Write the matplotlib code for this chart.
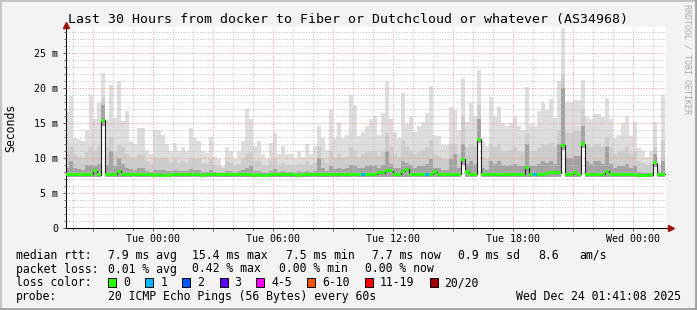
import numpy as np
import pandas as pd
import matplotlib
matplotlib.use("Agg")
import matplotlib.pyplot as plt
import matplotlib.dates as mdates
from matplotlib.patches import Rectangle
from matplotlib.ticker import MultipleLocator, FuncFormatter

plt.rcParams['font.family'] = ['DejaVu Sans Mono']

W, H = 697, 310

# 12 minute smoke columns, times of the first bin edge and the visible window
bin_start = "2025-12-22 19:36"
bin_minutes = 12
win_start = pd.Timestamp("2025-12-22 19:41:08")
win_end = pd.Timestamp("2025-12-24 01:41:08")

# ms values per 12-minute column
top = [16.5, 18.8, 12.9, 12.7, 12.4, 14.0, 19.0, 15.5, 17.8, 22.1, 15.4, 20.4, 15.7, 21.0, 15.3, 16.7, 12.4, 12.0, 14.3, 14.3, 11.2, 10.5, 14.0, 14.0, 13.3,
       12.0, 11.0, 12.2, 11.0, 11.5, 11.0, 14.3, 12.8, 12.4, 11.0, 10.7, 13.0, 10.2, 9.8, 8.8, 11.5, 11.0, 9.8, 11.0, 12.4, 17.0, 15.5, 11.7, 12.4, 10.5,
       9.8, 12.1, 13.6, 10.5, 11.7, 10.5, 10.6, 10.0, 11.0, 10.2, 12.0, 10.5, 11.7, 14.6, 12.9, 11.2, 16.8, 12.9, 15.0, 12.9, 13.3, 19.0, 17.5, 13.2, 13.7,
       14.5, 15.5, 16.0, 13.3, 16.4, 21.0, 15.5, 13.7, 12.9, 19.3, 14.8, 16.0, 13.7, 14.5, 15.2, 16.4, 20.3, 13.3, 13.1, 11.9, 11.9, 17.3, 16.8, 14.0, 21.4,
       15.2, 17.8, 16.0, 22.5, 12.4, 11.7, 18.7, 16.0, 17.3, 15.0, 14.5, 15.0, 16.0, 14.5, 14.0, 20.2, 14.8, 14.5, 16.7, 17.9, 16.9, 18.4, 15.7, 21.0, 28.6,
       18.0, 18.0, 18.3, 18.3, 21.2, 16.0, 15.5, 16.3, 16.3, 15.8, 18.5, 15.5, 12.9, 13.3, 15.0, 16.0, 13.1, 15.1, 11.4, 11.0, 10.2, 11.0, 15.2, 9.0, 19.0]

upper = [11.0, 11.5, 10.5, 10.2, 10.0, 10.8, 11.5, 11.0, 11.7, 18.5, 11.5, 13.0, 11.0, 11.8, 11.5, 10.5, 10.2, 10.0, 10.5, 10.5, 9.6, 9.2, 10.2, 10.0, 10.0,
         9.8, 9.3, 9.8, 9.3, 9.5, 9.3, 10.0, 9.8, 9.8, 9.3, 9.2, 9.8, 9.0, 8.8, 8.5, 9.5, 9.3, 8.8, 9.2, 9.8, 10.5, 10.8, 9.5, 9.5, 9.0,
         8.8, 9.5, 9.8, 9.0, 9.3, 9.0, 9.0, 8.8, 9.2, 9.0, 9.5, 9.0, 9.3, 11.5, 10.0, 9.3, 11.0, 10.0, 10.5, 10.0, 10.2, 11.5, 11.0, 10.2, 10.5,
         10.8, 11.0, 11.0, 10.3, 11.0, 13.6, 11.5, 10.5, 10.2, 12.5, 11.5, 11.0, 10.5, 10.8, 11.0, 11.5, 12.5, 10.5, 10.3, 9.8, 9.8, 12.0, 12.0, 10.5, 16.0,
         11.5, 12.0, 11.5, 17.5, 10.2, 9.8, 12.0, 11.5, 12.0, 11.0, 11.0, 11.2, 11.5, 11.0, 10.8, 13.5, 11.0, 11.0, 11.5, 12.0, 11.8, 12.2, 11.5, 14.0, 22.0,
         13.5, 13.5, 13.8, 13.8, 17.0, 12.0, 11.5, 12.0, 12.0, 11.5, 13.0, 11.5, 10.5, 10.8, 11.0, 11.5, 10.5, 11.0, 9.5, 9.3, 9.0, 9.3, 11.5, 8.3, 12.5]

inner = [8.6, 9.5, 8.5, 8.4, 8.3, 9.0, 9.0, 8.8, 9.2, 17.5, 9.0, 11.0, 8.8, 10.0, 9.2, 8.6, 8.4, 8.3, 8.5, 8.5, 8.2, 8.0, 8.3, 8.3, 8.3,
         8.2, 8.1, 8.3, 8.1, 8.2, 8.1, 8.4, 8.3, 8.3, 8.0, 8.0, 8.3, 8.0, 7.9, 7.9, 8.2, 8.1, 7.9, 8.1, 8.3, 8.6, 8.8, 8.2, 8.2, 8.0,
         7.9, 8.2, 8.4, 8.0, 8.2, 8.0, 8.0, 7.9, 8.1, 8.0, 8.2, 8.0, 8.1, 10.0, 8.5, 8.1, 8.8, 8.4, 8.6, 8.4, 8.5, 9.0, 8.8, 8.5, 8.6,
         8.8, 9.0, 9.0, 8.6, 9.0, 11.0, 9.2, 8.6, 8.5, 9.5, 9.3, 9.0, 8.6, 8.8, 8.8, 9.2, 9.8, 8.6, 8.5, 8.3, 8.3, 9.8, 10.5, 8.6, 12.0,
         9.2, 9.5, 9.2, 15.5, 8.5, 8.3, 9.5, 9.2, 9.5, 9.0, 8.8, 9.0, 9.2, 8.8, 8.8, 12.0, 8.8, 8.8, 9.2, 9.5, 9.3, 9.5, 9.2, 12.0, 20.0,
         10.0, 10.0, 10.3, 10.3, 14.5, 9.5, 9.2, 9.5, 9.5, 9.2, 11.5, 9.2, 8.6, 8.8, 8.8, 9.2, 8.5, 8.8, 8.0, 7.9, 7.8, 7.9, 10.5, 7.9, 9.5]

low = [7.35] * 9 + [14.6] + [7.35] * 89 + [9.0] + [7.35] * 3 + [12.2] + [7.35] * 20 + [11.2] + [7.35] * 4 + [11.4] + [7.35] * 17 + [8.7] + [7.35] * 2

median = [7.7, 7.7, 7.7, 7.7, 7.7, 7.7, 7.7, 8.2, 7.6, 15.4, 7.7, 7.7, 7.7, 8.1, 7.7, 7.7, 7.7, 7.7, 7.7, 7.7, 7.7, 7.7, 7.5, 7.6, 7.5,
          7.5, 7.7, 7.7, 7.7, 7.7, 7.7, 7.7, 7.7, 7.7, 7.5, 7.7, 7.7, 7.7, 7.6, 7.6, 7.6, 7.6, 7.6, 7.6, 7.6, 7.6, 7.6, 7.5, 7.6, 7.5,
          7.5, 7.6, 7.6, 7.6, 7.6, 7.6, 7.6, 7.6, 7.5, 7.6, 7.6, 7.6, 7.6, 7.6, 7.6, 7.6, 7.6, 7.6, 7.7, 7.7, 7.7, 7.7, 7.7, 7.7, 7.7,
          7.7, 7.7, 7.7, 7.9, 7.9, 8.2, 8.2, 7.7, 7.7, 8.1, 8.4, 7.7, 7.7, 7.7, 7.7, 7.7, 7.7, 8.0, 7.7, 7.7, 7.7, 7.7, 7.7, 7.7, 9.8,
          8.0, 7.7, 7.7, 12.7, 7.7, 7.7, 7.7, 7.7, 7.7, 7.7, 7.7, 7.7, 7.7, 7.7, 7.7, 8.6, 7.7, 7.7, 7.7, 7.7, 7.8, 7.9, 7.9, 7.9, 11.8,
          7.7, 7.7, 7.9, 7.7, 12.0, 7.7, 7.7, 7.7, 7.7, 7.7, 8.1, 7.7, 7.7, 7.7, 7.7, 7.7, 7.7, 7.7, 7.5, 7.5, 7.5, 7.6, 9.3, 7.7, 7.7]

# lost pings per column (out of 20)
loss = [0] * 150
for i in (74, 90, 117):
    loss[i] = 1

loss_labels = ["0", "1", "2", "3", "4-5", "6-10", "11-19", "20/20"]
loss_colors = ["#26ff00", "#00b8ff", "#0059ff", "#5e00ff", "#ff00ff", "#ff5500", "#ff0000", "#a10000"]

title = "Last 30 Hours from docker to Fiber or Dutchcloud or whatever (AS34968)"
rtt_stats = [("7.9 ms avg", 107.6), ("15.4 ms max", 192.4), ("7.5 ms min", 285.8),
             ("7.7 ms now", 372.0), ("0.9 ms sd", 457.8), ("8.6", 537.8), ("am/s", 579.0)]
loss_stats = [("0.01 % avg", 107.6), ("0.42 % max", 192.4), ("0.00 % min", 279.0), ("0.00 % now", 365.3)]
probe_text = "20 ICMP Echo Pings (56 Bytes) every 60s"
stamp = "Wed Dec 24 01:41:08 2025"


def ext(a):
    a = np.asarray(a, dtype=float)
    return np.append(a, a[-1])


n = len(top)
edges = pd.date_range(bin_start, periods=n + 1, freq=f"{bin_minutes}min")
x = mdates.date2num(edges.to_pydatetime())
bw = bin_minutes / 1440.0

fig = plt.figure(figsize=(W / 100, H / 100), dpi=100, facecolor="#f3f3f3")
ax = fig.add_axes([66.4 / W, 1 - 228 / H, 600 / W, 201 / H])
ax.set_facecolor("white")

# smoke
ax.fill_between(x, ext(low), ext(top), step="post", color="#dedede", lw=0, zorder=1)
ax.fill_between(x, ext(low), ext(upper), step="post", color="#cdcdcd", lw=0, zorder=1.1)
ax.fill_between(x, ext(low), ext(inner), step="post", color="#a3a3a3", lw=0, zorder=1.2)

# median line + loss colour
ax.step(x, ext(median), where="post", color="#202020", lw=0.8, zorder=3)
med = np.asarray(median)
ax.bar(x[:-1], 0.44, bottom=med - 0.22, width=bw, align="edge",
       color=[loss_colors[l] for l in loss], lw=0, antialiased=False, zorder=4)

ax.set_xlim(mdates.date2num(win_start.to_pydatetime()), mdates.date2num(win_end.to_pydatetime()))
ax.set_ylim(0, 28.71)

# grid
ax.xaxis.set_major_locator(mdates.HourLocator(byhour=range(0, 24, 3)))
ax.xaxis.set_minor_locator(mdates.HourLocator())
ax.yaxis.set_major_locator(MultipleLocator(5))
ax.yaxis.set_minor_locator(MultipleLocator(1))


def xfmt(v, pos):
    d = mdates.num2date(v)
    return d.strftime("%a %H:%M") if d.hour % 6 == 0 else ""


ax.xaxis.set_major_formatter(FuncFormatter(xfmt))
ax.yaxis.set_major_formatter(FuncFormatter(lambda v, p: "0" if v == 0 else f"{v:.0f} m"))
ax.grid(which="minor", color="#c4c4c4", lw=0.7, ls=(0, (1.2, 1.6)))
ax.grid(which="major", color="#f29a9a", lw=0.7, ls=(0, (1.2, 1.6)))
ax.set_axisbelow(False)

for s in ("top", "right"):
    ax.spines[s].set_visible(False)
for s in ("left", "bottom"):
    ax.spines[s].set_color("#000000")
    ax.spines[s].set_linewidth(0.75)
ax.tick_params(which="major", length=2.5, width=0.6, color="#444444", labelsize=7.2, pad=2)
ax.tick_params(which="minor", length=1.5, width=0.6, color="#444444")
ax.tick_params(axis="y", pad=3.5)

# axis arrows
ax.plot([1.0, 1.006], [0, 0], color="#000000", lw=0.75, transform=ax.transAxes, clip_on=False)
ax.plot([1.0075], [0], marker=">", ms=4, color="#a01010", transform=ax.transAxes, clip_on=False, zorder=6)
ax.plot([0], [1.012], marker="^", ms=4, color="#a01010", transform=ax.transAxes, clip_on=False, zorder=6)


def ftext(px, py, s, **kw):
    kw.setdefault("fontsize", 8.3)
    fig.text(px / W, 1 - py / H, s, **kw)


ftext(W / 2, 19, title, ha="center", va="center", fontsize=9.55)
ftext(11, 127.5, "Seconds", rotation=90, ha="center", va="center")
ftext(687, 59, "RRDTOOL / TOBI OETIKER", rotation=270, ha="center", va="center",
      fontsize=6, color="#aaaaaa")

rows = [259, 272.5, 286.5, 300]
for label, y in zip(["median rtt:", "packet loss:", "loss color:", "probe:"], rows):
    ftext(16, y, label, va="baseline")
for s, px in rtt_stats:
    ftext(px, rows[0], s, va="baseline")
for s, px in loss_stats:
    ftext(px, rows[1], s, va="baseline")

box_x = [108.4, 145.3, 182.2, 219.6, 256.4, 307.0, 365.3, 430.0]
lab_x = [123.6, 160.4, 197.3, 234.0, 271.0, 321.8, 380.0, 444.4]
for bx, lx, lab, col in zip(box_x, lab_x, loss_labels, loss_colors):
    fig.add_artist(Rectangle((bx / W, 1 - 287 / H), 8 / W, 8.7 / H, transform=fig.transFigure,
                             facecolor=col, edgecolor="black", lw=0.7))
    ftext(lx, rows[2], lab, va="baseline")

ftext(107.6, rows[3], probe_text, va="baseline")
ftext(680.5, rows[3], stamp, va="baseline", ha="right")

# frame around the image
fig.add_artist(Rectangle((0.5 / W, 0.5 / H), (W - 1) / W, (H - 1) / H, transform=fig.transFigure,
                         fill=False, edgecolor="#c4c4c4", lw=1.4))
fig.add_artist(plt.Line2D([0, 1], [0.8 / H, 0.8 / H], transform=fig.transFigure, color="#9a9a9a", lw=1.2))
fig.add_artist(plt.Line2D([1 - 0.8 / W, 1 - 0.8 / W], [0, 1], transform=fig.transFigure, color="#9a9a9a", lw=1.2))

fig.savefig("out.png", dpi=100, facecolor=fig.get_facecolor())
